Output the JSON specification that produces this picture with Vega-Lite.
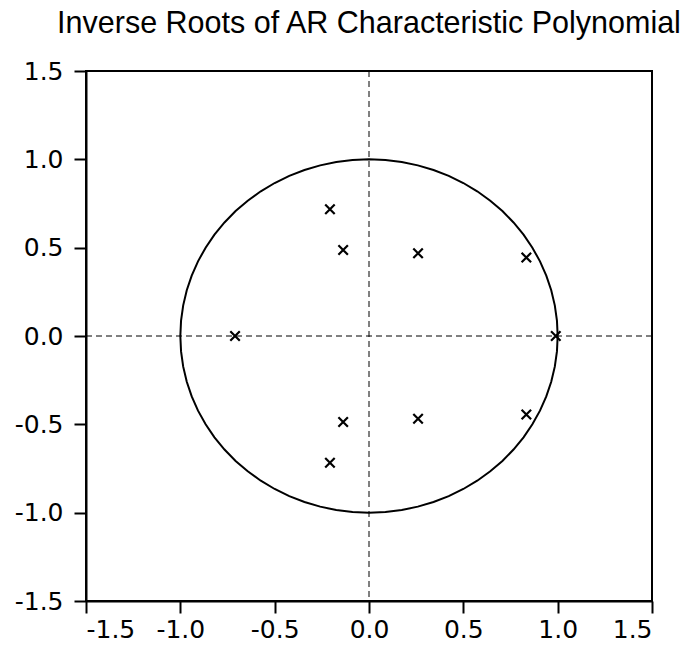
{
  "$schema": "https://vega.github.io/schema/vega-lite/v6.json",
  "autosize": {"type": "none"},
  "padding": {"left": 86, "top": 71, "right": 31, "bottom": 52},
  "width": 566,
  "height": 530,
  "background": "white",
  "title": {
    "text": "Inverse Roots of AR Characteristic Polynomial",
    "font": "Liberation Sans",
    "fontSize": 30.5,
    "fontWeight": "normal",
    "color": "black",
    "anchor": "middle",
    "frame": "group",
    "offset": 20
  },
  "config": {
    "view": {"stroke": "black", "strokeWidth": 2}
  },
  "datasets": {
    "roots": [
      {"re": -0.207, "im": 0.717},
      {"re": -0.137, "im": 0.487},
      {"re": 0.26, "im": 0.468},
      {"re": 0.834, "im": 0.444},
      {"re": -0.71, "im": 0.0},
      {"re": 0.99, "im": 0.0},
      {"re": 0.834, "im": -0.444},
      {"re": 0.26, "im": -0.468},
      {"re": -0.137, "im": -0.487},
      {"re": -0.207, "im": -0.717}
    ],
    "circle": [
      {"a": 0, "cx": 1, "cy": 0},
      {"a": 5, "cx": 0.9962, "cy": 0.0872},
      {"a": 10, "cx": 0.9848, "cy": 0.1736},
      {"a": 15, "cx": 0.9659, "cy": 0.2588},
      {"a": 20, "cx": 0.9397, "cy": 0.342},
      {"a": 25, "cx": 0.9063, "cy": 0.4226},
      {"a": 30, "cx": 0.866, "cy": 0.5},
      {"a": 35, "cx": 0.8192, "cy": 0.5736},
      {"a": 40, "cx": 0.766, "cy": 0.6428},
      {"a": 45, "cx": 0.7071, "cy": 0.7071},
      {"a": 50, "cx": 0.6428, "cy": 0.766},
      {"a": 55, "cx": 0.5736, "cy": 0.8192},
      {"a": 60, "cx": 0.5, "cy": 0.866},
      {"a": 65, "cx": 0.4226, "cy": 0.9063},
      {"a": 70, "cx": 0.342, "cy": 0.9397},
      {"a": 75, "cx": 0.2588, "cy": 0.9659},
      {"a": 80, "cx": 0.1736, "cy": 0.9848},
      {"a": 85, "cx": 0.0872, "cy": 0.9962},
      {"a": 90, "cx": 0, "cy": 1},
      {"a": 95, "cx": -0.0872, "cy": 0.9962},
      {"a": 100, "cx": -0.1736, "cy": 0.9848},
      {"a": 105, "cx": -0.2588, "cy": 0.9659},
      {"a": 110, "cx": -0.342, "cy": 0.9397},
      {"a": 115, "cx": -0.4226, "cy": 0.9063},
      {"a": 120, "cx": -0.5, "cy": 0.866},
      {"a": 125, "cx": -0.5736, "cy": 0.8192},
      {"a": 130, "cx": -0.6428, "cy": 0.766},
      {"a": 135, "cx": -0.7071, "cy": 0.7071},
      {"a": 140, "cx": -0.766, "cy": 0.6428},
      {"a": 145, "cx": -0.8192, "cy": 0.5736},
      {"a": 150, "cx": -0.866, "cy": 0.5},
      {"a": 155, "cx": -0.9063, "cy": 0.4226},
      {"a": 160, "cx": -0.9397, "cy": 0.342},
      {"a": 165, "cx": -0.9659, "cy": 0.2588},
      {"a": 170, "cx": -0.9848, "cy": 0.1736},
      {"a": 175, "cx": -0.9962, "cy": 0.0872},
      {"a": 180, "cx": -1, "cy": 0},
      {"a": 185, "cx": -0.9962, "cy": -0.0872},
      {"a": 190, "cx": -0.9848, "cy": -0.1736},
      {"a": 195, "cx": -0.9659, "cy": -0.2588},
      {"a": 200, "cx": -0.9397, "cy": -0.342},
      {"a": 205, "cx": -0.9063, "cy": -0.4226},
      {"a": 210, "cx": -0.866, "cy": -0.5},
      {"a": 215, "cx": -0.8192, "cy": -0.5736},
      {"a": 220, "cx": -0.766, "cy": -0.6428},
      {"a": 225, "cx": -0.7071, "cy": -0.7071},
      {"a": 230, "cx": -0.6428, "cy": -0.766},
      {"a": 235, "cx": -0.5736, "cy": -0.8192},
      {"a": 240, "cx": -0.5, "cy": -0.866},
      {"a": 245, "cx": -0.4226, "cy": -0.9063},
      {"a": 250, "cx": -0.342, "cy": -0.9397},
      {"a": 255, "cx": -0.2588, "cy": -0.9659},
      {"a": 260, "cx": -0.1736, "cy": -0.9848},
      {"a": 265, "cx": -0.0872, "cy": -0.9962},
      {"a": 270, "cx": 0, "cy": -1},
      {"a": 275, "cx": 0.0872, "cy": -0.9962},
      {"a": 280, "cx": 0.1736, "cy": -0.9848},
      {"a": 285, "cx": 0.2588, "cy": -0.9659},
      {"a": 290, "cx": 0.342, "cy": -0.9397},
      {"a": 295, "cx": 0.4226, "cy": -0.9063},
      {"a": 300, "cx": 0.5, "cy": -0.866},
      {"a": 305, "cx": 0.5736, "cy": -0.8192},
      {"a": 310, "cx": 0.6428, "cy": -0.766},
      {"a": 315, "cx": 0.7071, "cy": -0.7071},
      {"a": 320, "cx": 0.766, "cy": -0.6428},
      {"a": 325, "cx": 0.8192, "cy": -0.5736},
      {"a": 330, "cx": 0.866, "cy": -0.5},
      {"a": 335, "cx": 0.9063, "cy": -0.4226},
      {"a": 340, "cx": 0.9397, "cy": -0.342},
      {"a": 345, "cx": 0.9659, "cy": -0.2588},
      {"a": 350, "cx": 0.9848, "cy": -0.1736},
      {"a": 355, "cx": 0.9962, "cy": -0.0872},
      {"a": 360, "cx": 1, "cy": 0}
    ],
    "zeros": [{"v": 0}]
  },
  "layer": [
    {
      "data": {"name": "roots"},
      "mark": {"type": "point", "shape": "M-1,-1L1,1M1,-1L-1,1", "filled": false, "stroke": "black", "strokeWidth": 2.2, "size": 90, "opacity": 1},
      "encoding": {
        "x": {
          "field": "re", "type": "quantitative",
          "scale": {"domain": [-1.5, 1.5], "nice": false, "zero": false},
          "axis": {
            "values": [-1.5, -1.0, -0.5, 0.0, 0.5, 1.0, 1.5],
            "labelExpr": "replace(format(datum.value, '.1f'), '\u2212', '-')",
            "orient": "bottom", "title": null, "grid": false,
            "domainColor": "black", "domainWidth": 2,
            "tickColor": "black", "tickWidth": 2, "tickSize": 12,
            "labelFont": "DejaVu Sans", "labelFontSize": 25, "labelColor": "black",
            "labelPadding": 4
          }
        },
        "y": {
          "field": "im", "type": "quantitative",
          "scale": {"domain": [-1.5, 1.5], "nice": false, "zero": false},
          "axis": {
            "values": [-1.5, -1.0, -0.5, 0.0, 0.5, 1.0, 1.5],
            "labelExpr": "replace(format(datum.value, '.1f'), '\u2212', '-')",
            "orient": "left", "title": null, "grid": false,
            "domainColor": "black", "domainWidth": 2,
            "tickColor": "black", "tickWidth": 2, "tickSize": 12,
            "labelFont": "DejaVu Sans", "labelFontSize": 25, "labelColor": "black",
            "labelPadding": 11
          }
        }
      }
    },
    {
      "data": {"name": "zeros"},
      "mark": {"type": "rule", "color": "black", "strokeWidth": 1, "strokeDash": [6, 4]},
      "encoding": {
        "y": {"field": "v", "type": "quantitative"}
      }
    },
    {
      "data": {"name": "zeros"},
      "mark": {"type": "rule", "color": "black", "strokeWidth": 1, "strokeDash": [6, 4]},
      "encoding": {
        "x": {"field": "v", "type": "quantitative"}
      }
    },
    {
      "data": {"name": "circle"},
      "mark": {"type": "line", "color": "black", "strokeWidth": 2},
      "encoding": {
        "x": {"field": "cx", "type": "quantitative"},
        "y": {"field": "cy", "type": "quantitative"},
        "order": {"field": "a", "type": "quantitative"}
      }
    }
  ]
}
